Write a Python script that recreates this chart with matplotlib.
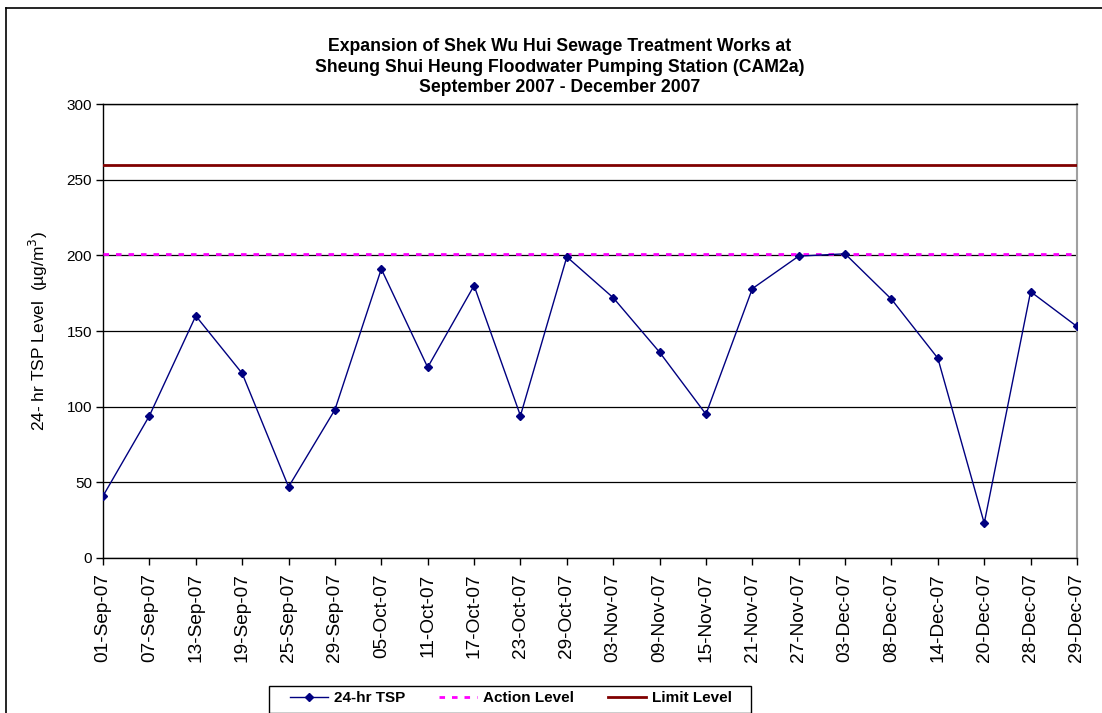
import matplotlib
matplotlib.use("Agg")
from matplotlib import pyplot as plt
from matplotlib.lines import Line2D
from matplotlib.patches import Rectangle

plt.rcParams['font.family'] = ['Liberation Sans', 'DejaVu Sans']

# Datos
fechas = ['01-Sep-07', '07-Sep-07', '13-Sep-07', '19-Sep-07', '25-Sep-07', '29-Sep-07',
          '05-Oct-07', '11-Oct-07', '17-Oct-07', '23-Oct-07', '29-Oct-07',
          '03-Nov-07', '09-Nov-07', '15-Nov-07', '21-Nov-07', '27-Nov-07',
          '03-Dec-07', '08-Dec-07', '14-Dec-07', '20-Dec-07', '28-Dec-07', '29-Dec-07']
tsp = [41, 94, 160, 122, 47, 98, 191, 126, 180, 94, 199,
       172, 136, 95, 178, 199.5, 201, 171, 132, 23, 176, 153]
action_level = 201
limit_level = 260

titulo = ("Expansion of Shek Wu Hui Sewage Treatment Works at\n"
          "Sheung Shui Heung Floodwater Pumping Station (CAM2a)\n"
          "September 2007 - December 2007")

W, H = 1102, 713
fig = plt.figure(figsize=(W / 100, H / 100), dpi=100)
ax = fig.add_axes([0.0935, 0.2174, 0.8838, 0.6367])

x = list(range(len(fechas)))
ax.plot(x, tsp, color='#000080', lw=1, marker='D', markersize=4.5,
        label='24-hr TSP', zorder=4)
ax.plot([x[0], x[-1]], [action_level, action_level], color='#FF00FF', lw=2,
        linestyle=(0, (2, 2.5)), label='Action Level', zorder=3)
ax.plot([x[0], x[-1]], [limit_level, limit_level], color='#800000', lw=2,
        label='Limit Level', zorder=3)

ax.set_xlim(x[0], x[-1])
ax.set_ylim(0, 300)
ax.set_yticks(range(0, 301, 50))
ax.set_xticks(x)
ax.set_xticklabels(fechas, rotation=90, fontsize=13.7)
ax.tick_params(axis='y', labelsize=11, direction='out', length=5, width=1, pad=3)
ax.tick_params(axis='x', direction='out', length=5, width=1, pad=6)
ax.yaxis.grid(True, color='black', lw=0.9)
ax.set_axisbelow(True)

for lado in ['left', 'bottom', 'top']:
    ax.spines[lado].set_color('black')
    ax.spines[lado].set_linewidth(1)
ax.spines['right'].set_color('#a0a0a0')
ax.spines['right'].set_linewidth(1.5)

ax.set_ylabel('24- hr TSP Level  (\u00b5g/m$^3$)', fontsize=12.5, labelpad=12)

fig.text(0.508, 1 - 67 / H, titulo, ha='center', va='center', fontsize=12.7,
         fontweight='bold', linespacing=1.25)

leg = fig.legend(loc='center', bbox_to_anchor=(511 / W, 1 - 698 / H), ncol=3,
                 frameon=False, prop={'weight': 'bold', 'size': 11},
                 handlelength=2.5, columnspacing=2.2, borderpad=0.3,
                 handletextpad=0.4)

# Caja de la leyenda
fig.add_artist(Rectangle((269 / W, 0), (751 - 269) / W, 1 - 686 / H,
                         transform=fig.transFigure, fill=False,
                         edgecolor='black', lw=1))

# Borde exterior del grafico
fig.add_artist(Line2D([6 / W, 1], [1 - 8 / H, 1 - 8 / H], color='black', lw=1.2))
fig.add_artist(Line2D([6 / W, 6 / W], [0, 1 - 8 / H], color='black', lw=1.2))

fig.savefig('out.png', dpi=100)
